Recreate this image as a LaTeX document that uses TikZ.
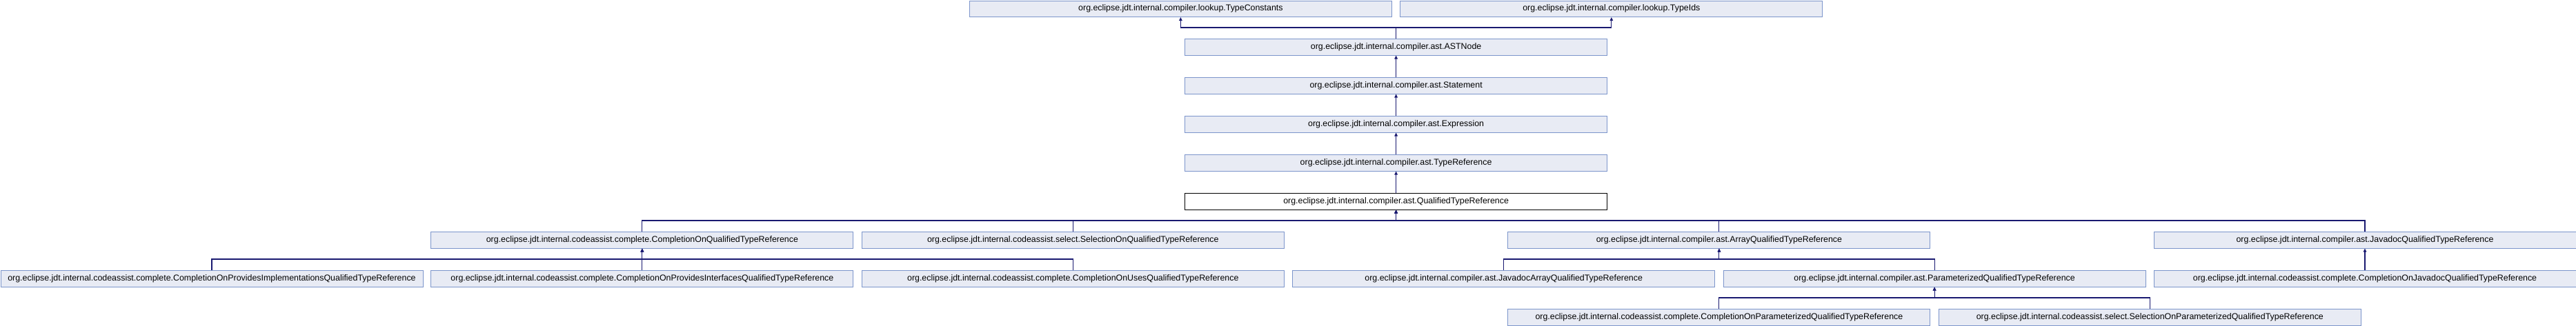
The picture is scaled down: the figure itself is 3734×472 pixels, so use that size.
\documentclass[tikz,border=0pt]{standalone}
\usepackage{fontspec}
\setmainfont{Liberation Sans}
\usetikzlibrary{arrows.meta}
\definecolor{boxfill}{HTML}{E8EBF4}
\definecolor{boxborder}{HTML}{7C95CB}
\definecolor{edgecol}{HTML}{191970}
\begin{document}
\begin{tikzpicture}[x=1pt,y=-1pt,
  cls/.style={draw=boxborder, fill=boxfill, line width=1pt, minimum width=612pt, minimum height=23.5pt, inner sep=0pt, anchor=north west, font=\fontsize{12.4}{14}\selectfont},
  cur/.style={cls, draw=black, fill=white},
  inh/.style={draw=edgecol, line width=1.1pt, -{Triangle[length=5pt,width=4.5pt]}}]
\useasboundingbox (0,0) rectangle (3734,472);
% row 0
\node[cls] (tc) at (1404.9,0.5) {org.eclipse.jdt.internal.compiler.lookup.TypeConstants};
\node[cls] (ti) at (2029.3,0.5) {org.eclipse.jdt.internal.compiler.lookup.TypeIds};
% rows 1-5
\node[cls] (ast) at (1717.1,56) {org.eclipse.jdt.internal.compiler.ast.ASTNode};
\node[cls] (stm) at (1717.1,112) {org.eclipse.jdt.internal.compiler.ast.Statement};
\node[cls] (exp) at (1717.1,168) {org.eclipse.jdt.internal.compiler.ast.Expression};
\node[cls] (tr) at (1717.1,224) {org.eclipse.jdt.internal.compiler.ast.TypeReference};
\node[cur] (qtr) at (1717.1,280) {org.eclipse.jdt.internal.compiler.ast.QualifiedTypeReference};
% row 6
\node[cls] (coq) at (624.4,336) {org.eclipse.jdt.internal.codeassist.complete.CompletionOnQualifiedTypeReference};
\node[cls] (soq) at (1248.8,336) {org.eclipse.jdt.internal.codeassist.select.SelectionOnQualifiedTypeReference};
\node[cls] (aq) at (2185.4,336) {org.eclipse.jdt.internal.compiler.ast.ArrayQualifiedTypeReference};
\node[cls] (jq) at (3121.5,336) {org.eclipse.jdt.internal.compiler.ast.JavadocQualifiedTypeReference};
% row 7
\node[cls] (copi) at (0.5,392) {org.eclipse.jdt.internal.codeassist.complete.CompletionOnProvidesImplementationsQualifiedTypeReference};
\node[cls] (copf) at (624.4,392) {org.eclipse.jdt.internal.codeassist.complete.CompletionOnProvidesInterfacesQualifiedTypeReference};
\node[cls] (cou) at (1248.8,392) {org.eclipse.jdt.internal.codeassist.complete.CompletionOnUsesQualifiedTypeReference};
\node[cls] (jaq) at (1873.2,392) {org.eclipse.jdt.internal.compiler.ast.JavadocArrayQualifiedTypeReference};
\node[cls] (pq) at (2497.6,392) {org.eclipse.jdt.internal.compiler.ast.ParameterizedQualifiedTypeReference};
\node[cls] (cojq) at (3121.5,392) {org.eclipse.jdt.internal.codeassist.complete.CompletionOnJavadocQualifiedTypeReference};
% row 8
\node[cls] (copq) at (2185.4,448) {org.eclipse.jdt.internal.codeassist.complete.CompletionOnParameterizedQualifiedTypeReference};
\node[cls] (sopq) at (2809.8,448) {org.eclipse.jdt.internal.codeassist.select.SelectionOnParameterizedQualifiedTypeReference};
% edges
\draw[inh] (ast.north) -- ++(0,-16) -| (tc.south);
\draw[inh] (ast.north) -- ++(0,-16) -| (ti.south);
\draw[inh] (stm.north) -- (ast.south);
\draw[inh] (exp.north) -- (stm.south);
\draw[inh] (tr.north) -- (exp.south);
\draw[inh] (qtr.north) -- (tr.south);
\draw[inh] (coq.north) -- ++(0,-16) -| (qtr.south);
\draw[inh] (soq.north) -- ++(0,-16) -| (qtr.south);
\draw[inh] (aq.north) -- ++(0,-16) -| (qtr.south);
\draw[inh] (jq.north) -- ++(0,-16) -| (qtr.south);
\draw[inh] (copi.north) -- ++(0,-16) -| (coq.south);
\draw[inh] (copf.north) -- (coq.south);
\draw[inh] (cou.north) -- ++(0,-16) -| (coq.south);
\draw[inh] (jaq.north) -- ++(0,-16) -| (aq.south);
\draw[inh] (pq.north) -- ++(0,-16) -| (aq.south);
\draw[inh] (cojq.north) -- (jq.south);
\draw[inh] (copq.north) -- ++(0,-16) -| (pq.south);
\draw[inh] (sopq.north) -- ++(0,-16) -| (pq.south);
\end{tikzpicture}
\end{document}
